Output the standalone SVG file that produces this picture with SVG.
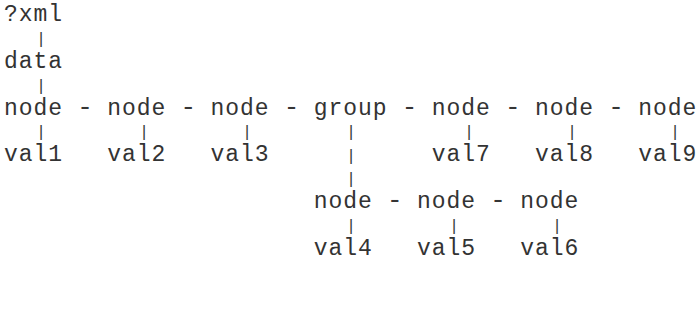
<svg xmlns="http://www.w3.org/2000/svg" width="699" height="320" viewBox="0 0 699 320">
<style>
text{font-family:"Liberation Mono","Courier New",monospace;fill:#333}
.t{font-size:23px;letter-spacing:0.95px}
.h{font-size:26px;text-anchor:middle}
.v{font-size:16px;text-anchor:middle}
#connectors{opacity:0.99}
</style>
<rect width="699" height="320" fill="#fff"/>
<g id="connectors">
<text class="v" x="41" y="43.8">|</text>
<text class="v" x="41" y="90.6">|</text>
<text class="h" x="85.1" y="114.6">-</text>
<text class="h" x="188.4" y="114.6">-</text>
<text class="h" x="291.6" y="114.6">-</text>
<text class="h" x="409.6" y="114.6">-</text>
<text class="h" x="512.9" y="114.6">-</text>
<text class="h" x="616.1" y="114.6">-</text>
<text class="v" x="41" y="137.4">|</text>
<text class="v" x="144" y="137.4">|</text>
<text class="v" x="247" y="137.4">|</text>
<text class="v" x="351" y="137.4">|</text>
<text class="v" x="469" y="137.4">|</text>
<text class="v" x="572" y="137.4">|</text>
<text class="v" x="675" y="137.4">|</text>
<text class="v" x="351" y="160.8">|</text>
<text class="v" x="351" y="184.2">|</text>
<text class="h" x="394.9" y="208.2">-</text>
<text class="h" x="498.1" y="208.2">-</text>
<text class="v" x="351" y="231">|</text>
<text class="v" x="454" y="231">|</text>
<text class="v" x="557" y="231">|</text>
</g>
<g id="xml"><text class="t" x="4" y="21">?xml</text></g>
<g id="data"><text class="t" x="4" y="67.8">data</text></g>
<g id="node1"><text class="t" x="4" y="114.6">node</text></g>
<g id="node2"><text class="t" x="107.25" y="114.6">node</text></g>
<g id="node3"><text class="t" x="210.5" y="114.6">node</text></g>
<g id="group"><text class="t" x="313.75" y="114.6">group</text></g>
<g id="node7"><text class="t" x="431.75" y="114.6">node</text></g>
<g id="node8"><text class="t" x="535" y="114.6">node</text></g>
<g id="node9"><text class="t" x="638.25" y="114.6">node</text></g>
<g id="val1"><text class="t" x="4" y="161.4">val1</text></g>
<g id="val2"><text class="t" x="107.25" y="161.4">val2</text></g>
<g id="val3"><text class="t" x="210.5" y="161.4">val3</text></g>
<g id="val7"><text class="t" x="431.75" y="161.4">val7</text></g>
<g id="val8"><text class="t" x="535" y="161.4">val8</text></g>
<g id="val9"><text class="t" x="638.25" y="161.4">val9</text></g>
<g id="node4"><text class="t" x="313.75" y="208.2">node</text></g>
<g id="node5"><text class="t" x="417" y="208.2">node</text></g>
<g id="node6"><text class="t" x="520.25" y="208.2">node</text></g>
<g id="val4"><text class="t" x="313.75" y="255">val4</text></g>
<g id="val5"><text class="t" x="417" y="255">val5</text></g>
<g id="val6"><text class="t" x="520.25" y="255">val6</text></g>
</svg>
